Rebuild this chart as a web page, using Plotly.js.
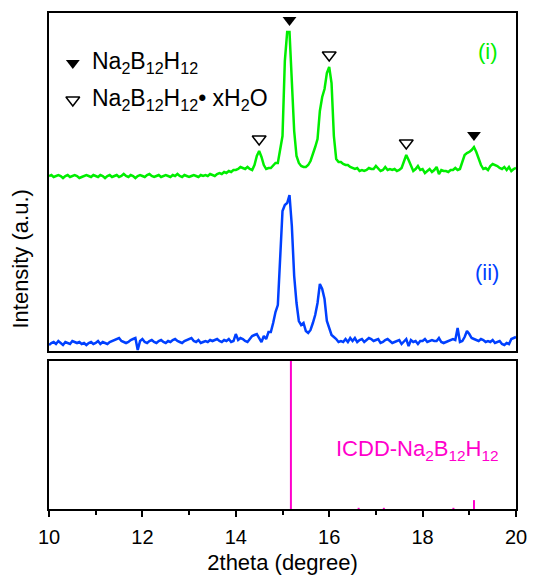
<!DOCTYPE html>
<html>
<head>
<meta charset="utf-8">
<script src="https://cdn.plot.ly/plotly-3.0.1.min.js"></script>
<style>html,body{margin:0;padding:0;background:#fff;}#chart{width:533px;height:578px;}</style>
</head>
<body>
<div id="chart"></div>
<script>
// 2theta sampling grid: start / step / count
const thetaStart = 10, thetaStep = 0.05, thetaCount = 201;

// Sample (i) intensity (a.u.), 10.00 .. 20.00 deg
const sampleI = [
  175,176,174,175,176,175,173,175,176,174,
  175,176,175,173,174,175,176,175,174,176,
  175,174,176,175,173,175,176,174,175,176,
  174,175,177,175,174,176,175,173,175,176,
  175,174,176,177,175,174,175,176,174,175,
  176,175,174,176,175,177,175,174,176,175,
  174,175,176,175,174,176,175,176,175,177,
  176,175,177,178,177,179,178,180,179,181,
  181,182,184,183,182,184,182,181,186,195,
  200,194,186,182,183,183,186,188,188,200,
  215,290,319,319,270,220,195,188,185,184,
  184,186,190,196,204,212,240,254,262,278,
  284,268,215,192,189,189,187,186,186,184,
  183,182,183,180,181,180,181,183,182,182,
  185,182,180,181,184,181,182,181,182,180,
  181,183,190,196,191,186,180,182,185,181,
  182,178,180,182,179,181,184,177,181,180,
  180,179,181,181,183,181,182,190,196,198,
  199,201,204,199,192,186,182,183,181,185,
  187,186,185,183,182,184,181,184,180,182,
  183
];

// Sample (ii) intensity (a.u.)
const sampleII = [
  6,8,9,7,10,8,6,9,8,7,
  10,9,8,9,7,8,6,8,9,7,
  8,10,7,9,8,7,9,10,11,12,
  13,10,9,8,9,11,12,13,1,10,
  12,9,8,10,11,9,8,10,11,9,
  8,10,9,11,12,10,9,8,10,11,
  12,13,10,9,11,8,9,10,9,11,
  10,11,12,10,9,11,10,12,9,10,
  17,11,13,12,10,9,12,15,16,17,
  13,9,15,12,19,19,28,39,46,90,
  140,146,148,156,125,75,48,30,26,28,
  20,18,21,28,36,48,67,62,52,30,
  22,16,14,12,9,10,9,12,9,13,
  10,13,9,11,12,9,11,13,12,10,
  11,12,8,9,11,12,10,8,9,10,
  11,7,10,12,5,11,9,10,7,10,
  10,12,9,10,11,10,10,13,9,8,
  9,10,11,12,11,23,9,10,14,20,
  17,13,12,11,10,12,11,9,10,9,
  11,8,9,10,7,6,8,7,12,13,
  14
];

// ICDD reference pattern Na2B12H12
const icddPos = [15.18, 16.63, 17.17, 18.66, 19.10];
const icddInt = [100, 0.8, 0.8, 0.8, 6];

// peak markers (2theta)
const peaksAnhydrous = [15.15, 19.10];
const peaksHydrate = [14.50, 16.00, 17.65];

// x tick labels
const majorTicks = [10, 12, 14, 16, 18, 20];
const minorTicks = [11, 13, 15, 17, 19];

const theta = [];
for (let i = 0; i < thetaCount; i++) theta.push(+(thetaStart + i * thetaStep).toFixed(2));

function nearestIdx(x) { return Math.round((x - thetaStart) / thetaStep); }
const markOffset = 12;

const stickX = [], stickY = [];
icddPos.forEach((p, i) => { stickX.push(p, p, null); stickY.push(0, icddInt[i], null); });

const green = '#00ee00', blue = '#0040ff', magenta = '#ff00cc';

const traces = [
  {x: theta, y: sampleI, xaxis: 'x2', yaxis: 'y2', mode: 'lines', line: {color: green, width: 2.5}},
  {x: theta, y: sampleII, xaxis: 'x2', yaxis: 'y2', mode: 'lines', line: {color: blue, width: 2.5}},
  {x: peaksAnhydrous, y: peaksAnhydrous.map(p => sampleI[nearestIdx(p)] + markOffset), xaxis: 'x2', yaxis: 'y2',
   mode: 'markers', marker: {symbol: 'triangle-down', size: 12, color: 'black'}},
  {x: peaksHydrate, y: peaksHydrate.map(p => sampleI[nearestIdx(p)] + markOffset), xaxis: 'x2', yaxis: 'y2',
   mode: 'markers', marker: {symbol: 'triangle-down-open', size: 12, color: 'black', line: {width: 1.5}}},
  // legend symbols
  {x: [10.51], y: [288], xaxis: 'x2', yaxis: 'y2', mode: 'markers', marker: {symbol: 'triangle-down', size: 12, color: 'black'}},
  {x: [10.51], y: [251], xaxis: 'x2', yaxis: 'y2', mode: 'markers', marker: {symbol: 'triangle-down-open', size: 12, color: 'black', line: {width: 1.5}}},
  {x: stickX, y: stickY, xaxis: 'x', yaxis: 'y', mode: 'lines', line: {color: magenta, width: 2}}
];

const axisBox = {showline: true, linewidth: 2, linecolor: 'black', mirror: true, showgrid: false, zeroline: false};

const layout = {
  width: 533, height: 578,
  margin: {l: 49, r: 17, t: 13, b: 69},
  showlegend: false,
  paper_bgcolor: 'white', plot_bgcolor: 'white',
  font: {family: 'Liberation Sans, Arial, sans-serif', color: 'black'},
  xaxis: Object.assign({}, axisBox, {
    domain: [0, 1], anchor: 'y', range: [10, 20],
    tickmode: 'array', tickvals: majorTicks, ticktext: majorTicks.map(String),
    ticks: 'outside', ticklen: 6, tickwidth: 2, tickcolor: 'black', ticklabelstandoff: 3,
    minor: {tickmode: 'array', tickvals: minorTicks, ticks: 'outside', ticklen: 4, tickwidth: 2, tickcolor: 'black', showgrid: false},
    tickfont: {size: 20, color: 'black'},
    title: {text: '2theta (degree)', font: {size: 22, color: 'black'}, standoff: 8}
  }),
  yaxis: Object.assign({}, axisBox, {domain: [0, 0.2984], anchor: 'x', range: [0, 100], showticklabels: false, ticks: ''}),
  xaxis2: Object.assign({}, axisBox, {domain: [0, 1], anchor: 'y2', range: [10, 20], showticklabels: false, ticks: ''}),
  yaxis2: Object.assign({}, axisBox, {domain: [0.3185, 1], anchor: 'x2', range: [0, 338], showticklabels: false, ticks: ''}),
  annotations: [
    {xref: 'x2', yref: 'y2', x: 10.88, y: 289, xanchor: 'left', yanchor: 'middle', showarrow: false,
     text: 'Na<sub>2</sub>B<sub>12</sub>H<sub>12</sub>', font: {size: 23, color: 'black'}},
    {xref: 'x2', yref: 'y2', x: 10.88, y: 252, xanchor: 'left', yanchor: 'middle', showarrow: false,
     text: 'Na<sub>2</sub>B<sub>12</sub>H<sub>12</sub>• xH<sub>2</sub>O', font: {size: 23, color: 'black'}},
    {xref: 'x2', yref: 'y2', x: 19.4, y: 300, xanchor: 'center', yanchor: 'middle', showarrow: false,
     text: '(i)', font: {size: 22, color: green}},
    {xref: 'x2', yref: 'y2', x: 19.38, y: 79, xanchor: 'center', yanchor: 'middle', showarrow: false,
     text: '(ii)', font: {size: 22, color: blue}},
    {xref: 'x', yref: 'y', x: 17.88, y: 40, xanchor: 'center', yanchor: 'middle', showarrow: false,
     text: 'ICDD-Na<sub>2</sub>B<sub>12</sub>H<sub>12</sub>', font: {size: 22, color: magenta}},
    {xref: 'paper', yref: 'paper', x: -0.062, y: 0.503, xanchor: 'center', yanchor: 'middle', showarrow: false,
     textangle: -90, text: 'Intensity (a.u.)', font: {size: 22, color: 'black'}}
  ]
};

Plotly.newPlot('chart', traces, layout, {staticPlot: true, displayModeBar: false});
</script>
</body>
</html>
